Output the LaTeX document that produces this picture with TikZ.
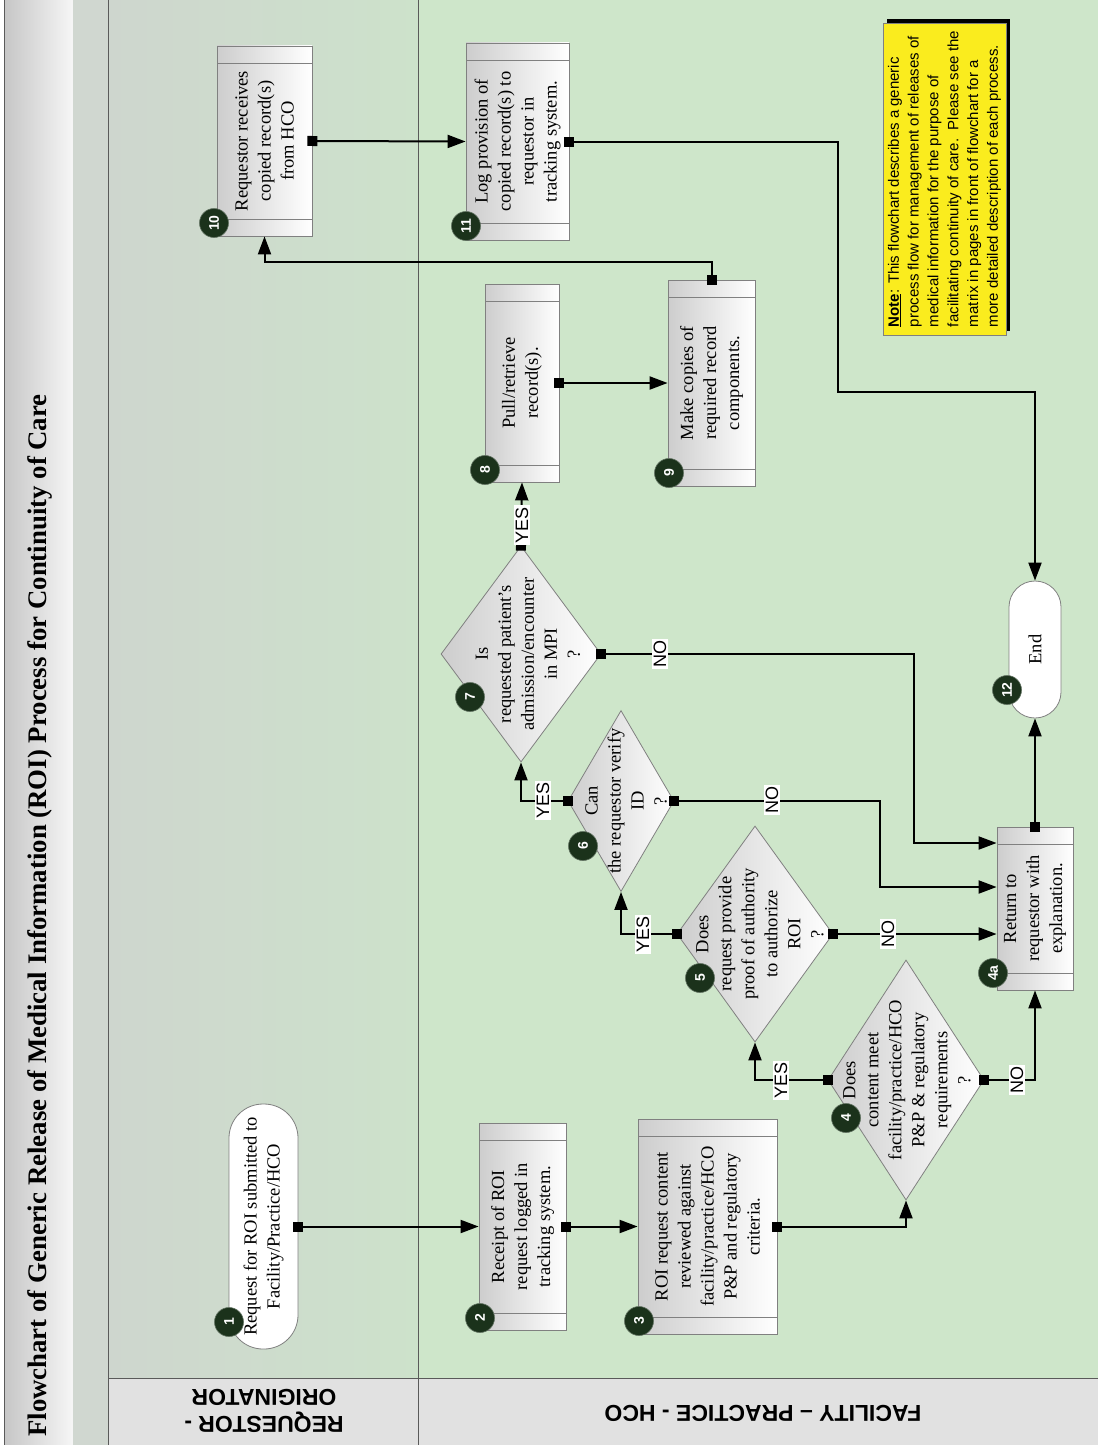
\documentclass[tikz,border=0pt]{standalone}
\usepackage{fontspec}
\setmainfont{Liberation Serif}
\newfontfamily\arialf{Liberation Sans}
\usetikzlibrary{arrows.meta,shapes.geometric,calc}
\definecolor{lanegreen}{RGB}{206,230,202}
\definecolor{lanegrayL}{RGB}{206,214,206}
\definecolor{lanegrayR}{RGB}{205,226,203}
\definecolor{stripgray}{RGB}{208,215,208}
\definecolor{titleL}{RGB}{198,198,198}
\definecolor{titleR}{RGB}{246,246,246}
\definecolor{bandgray}{RGB}{225,225,225}
\definecolor{badgegreen}{RGB}{27,50,27}
\definecolor{boxgray}{RGB}{205,205,205}
\definecolor{edgegray}{RGB}{128,128,128}
\definecolor{noteyellow}{RGB}{250,236,30}
\definecolor{frameline}{RGB}{90,90,90}
\begin{document}
\begin{tikzpicture}[x=1pt,y=-1pt,
  procbox/.style={rectangle, draw=edgegray, line width=0.8pt, left color=boxgray, right color=white, inner sep=0pt,
    path picture={\draw[edgegray, line width=0.8pt]
      ([yshift=-17pt]path picture bounding box.north west) -- ([yshift=-17pt]path picture bounding box.north east)
      ([yshift=17pt]path picture bounding box.south west) -- ([yshift=17pt]path picture bounding box.south east);}},
  decision/.style={diamond, draw=edgegray, line width=0.8pt, left color=boxgray, right color=white, inner sep=0pt},
  term/.style={rectangle, draw=edgegray, line width=0.8pt, fill=white, inner sep=0pt},
  ntext/.style={rotate=90, align=center, inner sep=0pt, font=\fontsize{18.5}{23}\selectfont},
  badge/.style={circle, fill=badgegreen, draw=badgegreen!70!white, line width=0.6pt, minimum size=29pt, inner sep=0pt, text=white, font=\arialf\bfseries\fontsize{14}{14}\selectfont, rotate=90},
  yn/.style={fill=white, inner sep=1.5pt, rotate=90, font=\arialf\fontsize{18}{18}\selectfont},
  conn/.style={line width=2pt, {Square[length=10pt,width=10pt]}-{Triangle[length=18pt,width=13pt]}, shorten <=-5pt},
]
\useasboundingbox (0,0) rectangle (1098,1445);
% backgrounds
\shade[left color=titleL, right color=titleR] (4,0) rectangle (73,1445);
\fill[stripgray] (73,0) rectangle (108,1445);
\shade[left color=lanegrayL, right color=lanegrayR] (108,0) rectangle (418,1378);
\fill[lanegreen] (418,0) rectangle (1098,1378);
\fill[bandgray] (108,1378) rectangle (1098,1445);
\draw[frameline, line width=0.8pt] (4,0) -- (4,1445);
\draw[frameline, line width=0.8pt] (108,0) -- (108,1445);
\draw[frameline, line width=0.8pt] (418,0) -- (418,1445);
\draw[frameline, line width=0.8pt] (108,1378) -- (1098,1378);

% title and lane labels
\node[rotate=90, anchor=west, inner sep=0pt, font=\bfseries\fontsize{26.8}{26.8}\selectfont] (title) at (40,1437) {Flowchart of Generic Release of Medical Information (ROI) Process for Continuity of Care};
\node[rotate=180, align=center, inner sep=0pt, font=\arialf\bfseries\fontsize{23}{27}\selectfont] (lreq) at (264,1411) {REQUESTOR -\\ORIGINATOR};
\node[rotate=180, inner sep=0pt, font=\arialf\bfseries\fontsize{23}{27}\selectfont] (lfac) at (763,1413) {FACILITY – PRACTICE - HCO};

% note
\fill[black] (887,19) rectangle (1010,331);
\node[rotate=90, draw=edgegray, line width=0.6pt, fill=noteyellow, minimum width=312pt, minimum height=123pt, align=left, inner sep=0pt, font=\arialf\fontsize{15}{19.8}\selectfont] (note) at (944.5,179) {\underline{\textbf{Note}}: This flowchart describes a generic\\process flow for management of releases of\\medical information for the purpose of\\facilitating continuity of care.\ \ Please see the\\matrix in pages in front of flowchart for a\\more detailed description of each process.};

% shapes
\node[term, minimum width=69pt, minimum height=245pt, rounded corners=34pt] (n1) at (263.5,1226.5) {};
\node[ntext] (t1) at (n1) {Request for ROI submitted to\\Facility/Practice/HCO};
\node[procbox, minimum width=87pt, minimum height=207pt] (n2) at (522.5,1226.5) {};
\node[ntext] (t2) at (n2) {Receipt of ROI\\request logged in\\tracking system.};
\node[procbox, minimum width=139pt, minimum height=215pt] (n3) at (707.5,1226.5) {};
\node[ntext] (t3) at (n3) {ROI request content\\reviewed against\\facility/practice/HCO\\P\&P and regulatory\\criteria.};
\node[decision, minimum width=156pt, minimum height=240pt] (d4) at (906,1080) {};
\node[ntext] (t4) at ($(d4)+(1,0)$) {Does\\content meet\\facility/practice/HCO\\P\&P \& regulatory\\requirements\\?};
\node[decision, minimum width=156pt, minimum height=216pt] (d5) at (755,934) {};
\node[ntext] (t5) at ($(d5)+(5,0)$) {Does\\request provide\\proof of authority\\to authorize\\ROI\\?};
\node[decision, minimum width=106pt, minimum height=181pt] (d6) at (621,801) {};
\node[ntext] (t6) at ($(d6)+(5,0)$) {Can\\the requestor verify\\ID\\?};
\node[decision, minimum width=160pt, minimum height=216pt] (d7) at (521,654) {};
\node[ntext] (t7) at ($(d7)+(7,0)$) {Is\\requested patient’s\\admission/encounter\\in MPI\\?};
\node[procbox, minimum width=76pt, minimum height=163pt] (r4a) at (1035,908.5) {};
\node[ntext] (t4a) at (r4a) {Return to\\requestor with\\explanation.};
\node[procbox, minimum width=74pt, minimum height=198pt] (n8) at (522,383) {};
\node[ntext] (t8) at (n8) {Pull/retrieve\\record(s).};
\node[procbox, minimum width=87pt, minimum height=206pt] (n9) at (711.5,383) {};
\node[ntext] (t9) at (n9) {Make copies of\\required record\\components.};
\node[procbox, minimum width=95pt, minimum height=190pt] (n10) at (264.5,141) {};
\node[ntext] (t10) at (n10) {Requestor receives\\copied record(s)\\from HCO};
\node[procbox, minimum width=103pt, minimum height=197pt] (n11) at (517.5,141.5) {};
\node[ntext] (t11) at (n11) {Log provision of\\copied record(s) to\\requestor in\\tracking system.};
\node[term, minimum width=52pt, minimum height=137pt, rounded corners=26pt] (nend) at (1035,649.5) {};
\node[ntext] (tend) at (nend) {End};

% helper coordinates
\coordinate (k6) at (880,887);
\coordinate (k7) at (914,843);
\coordinate (k9) at (711.5,262);
\coordinate (k11) at (838,392);

% connectors
\draw[conn] (n1.east) -- (n2.west);
\draw[conn] (n2.east) -- (n3.west);
\draw[conn] (n3.east) -| (d4.south);
\draw[conn] (d4.west) -| (d5.south);
\draw[conn] (d4.east) -| (r4a.south);
\draw[conn] (d5.west) -| (d6.south);
\draw[conn] (d5.east) -- (d5.east -| r4a.west);
\draw[conn] (d6.west) -| (d7.south);
\draw[conn] (d6.east) -| (k6) -- (k6 -| r4a.west);
\draw[conn] (d7.east) -| (k7) -- (k7 -| r4a.west);
\draw[conn] (d7.north) -- (n8.south);
\draw[conn] (n8.east) -- (n9.west);
\draw[conn] (n9.north) -- (k9) -| (n10.south);
\draw[conn] (n10.east) -- (n11.west);
\draw[conn] (n11.east) -| (k11) -| (nend.north);
\draw[conn] (r4a.north) -- (nend.south);

% yes / no labels
\node[yn] (y4) at (781,1080) {YES};
\node[yn] (no4) at (1017,1080) {NO};
\node[yn] (y5) at (643,934) {YES};
\node[yn] (no5) at (888,934) {NO};
\node[yn] (y6) at (543,800) {YES};
\node[yn] (no6) at (772,800) {NO};
\node[yn] (y7) at (522,525) {YES};
\node[yn] (no7) at (660,654) {NO};

% badges
\node[badge] (b1) at (229,1322) {1};
\node[badge] (b2) at (480,1318) {2};
\node[badge] (b3) at (639,1321) {3};
\node[badge] (b4) at (846,1118) {4};
\node[badge] (b5) at (700,978) {5};
\node[badge] (b6) at (583,846) {6};
\node[badge] (b7) at (470,697) {7};
\node[badge] (b8) at (485,470) {8};
\node[badge] (b9) at (669,473) {9};
\node[badge] (b10) at (214,223) {10};
\node[badge] (b11) at (466,226) {11};
\node[badge] (b12) at (1007,690) {12};
\node[badge] (b4a) at (993,973) {4a};
\end{tikzpicture}
\end{document}
